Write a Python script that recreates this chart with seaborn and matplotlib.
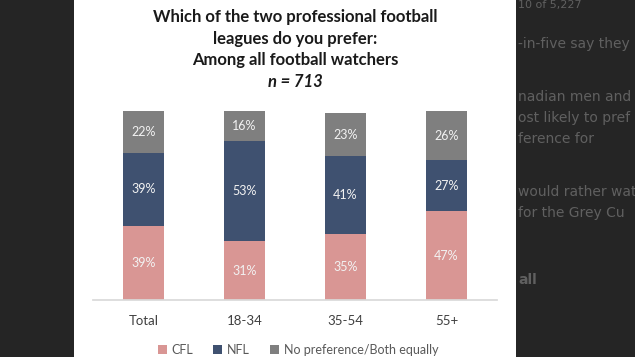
import pandas as pd
import matplotlib.pyplot as plt
import seaborn as sns
from matplotlib.patches import Rectangle, Patch

# data
groups = ['Total', '18-34', '35-54', '55+']
cfl = [39, 31, 35, 47]
nfl = [39, 53, 41, 27]
no_pref = [22, 16, 23, 26]
series = ['CFL', 'NFL', 'No preference/Both equally']
colors = ['#D99694', '#3F5170', '#7F7F7F']

df = pd.DataFrame({'group': groups, 'CFL': cfl, 'NFL': nfl, 'No pref': no_pref})
df['cum_cfl'] = df['CFL']
df['cum_nfl'] = df['CFL'] + df['NFL']
df['cum_all'] = df['cum_nfl'] + df['No pref']

sns.set_theme(style='white')
plt.rcParams['font.family'] = ['Lato', 'DejaVu Sans']

fig = plt.figure(figsize=(6.35, 3.57), dpi=100)
fig.patch.set_facecolor('white')

# dark page around the chart image
fig.patches.append(Rectangle((0, 0), 74 / 635, 1, transform=fig.transFigure,
                             facecolor='#252525', edgecolor='none', zorder=0))
fig.patches.append(Rectangle((516 / 635, 0), 119 / 635, 1, transform=fig.transFigure,
                             facecolor='#252525', edgecolor='none', zorder=0))
page_text = [
    (5, '10 of 5,227', 8, 'normal'),
    (44, '-in-five say they', 10, 'normal'),
    (97, 'nadian men and', 10, 'normal'),
    (118, 'ost likely to pref', 10, 'normal'),
    (139, 'ference for', 10, 'normal'),
    (192, 'would rather wat', 10, 'normal'),
    (213, 'for the Grey Cu', 10, 'normal'),
    (280, 'all', 10, 'bold'),
]
for ypx, txt, fs, fw in page_text:
    fig.text(518 / 635, 1 - ypx / 357, txt, ha='left', va='center', fontsize=fs,
             fontweight=fw, color='#606060', family=['DejaVu Sans'])

ax = fig.add_axes([93 / 635, 57 / 357, 404 / 635, 189 / 357])

# stacked bars: draw cumulative totals from the top segment down
for col, c in zip(['cum_all', 'cum_nfl', 'cum_cfl'], colors[::-1]):
    sns.barplot(data=df, x='group', y=col, color=c, width=0.4,
                saturation=1, linewidth=0, ax=ax)

for i, row in df.iterrows():
    bottoms = [0, row['cum_cfl'], row['cum_nfl']]
    vals = [row['CFL'], row['NFL'], row['No pref']]
    for b, v in zip(bottoms, vals):
        ax.text(i, b + v / 2, f'{v}%', ha='center', va='center',
                fontsize=9, color='#F2F2F2')

ax.set_xlim(-0.5, 3.5)
ax.set_ylim(0, 100)
ax.set_xlabel('')
ax.set_ylabel('')
ax.set_yticks([])
for s in ['top', 'right', 'left']:
    ax.spines[s].set_visible(False)
ax.spines['bottom'].set_color('#D9D9D9')
ax.tick_params(axis='x', length=0, pad=11, labelsize=9.5, labelcolor='#404040')

# title
title_lines = ['Which of the two professional football',
               'leagues do you prefer:',
               'Among all football watchers']
for ypx, line in zip([17, 39, 60], title_lines):
    fig.text(295 / 635, 1 - ypx / 357, line, ha='center', va='center',
             fontsize=12, fontweight='bold', color='#1A1A1A')
fig.text(295 / 635, 1 - 82 / 357, 'n = 713', ha='center', va='center',
         fontsize=12, fontweight='bold', fontstyle='italic', color='#1A1A1A')

handles = [Patch(facecolor=c, edgecolor='none') for c in colors]
fig.legend(handles, series, loc='center', bbox_to_anchor=(298 / 635, 7 / 357),
           ncol=3, frameon=False, fontsize=9, handlelength=0.7, handleheight=0.7,
           handletextpad=0.4, columnspacing=1.6, labelcolor='#595959')

fig.savefig('out.png', dpi=100, facecolor=fig.get_facecolor())
